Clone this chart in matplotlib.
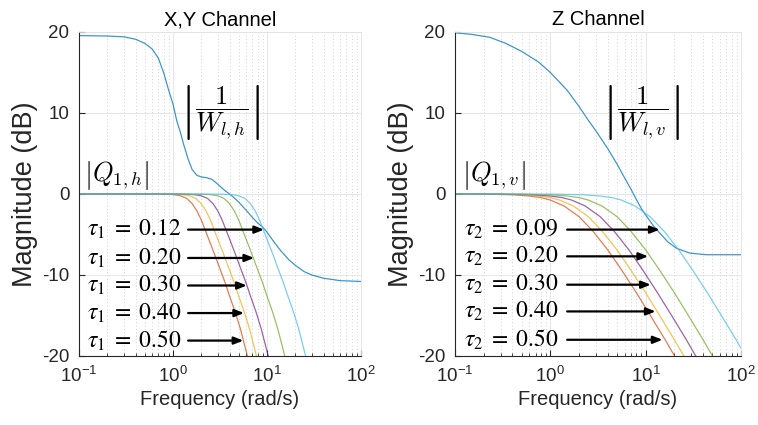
import matplotlib
matplotlib.use('Agg')
import matplotlib.pyplot as plt
from matplotlib.ticker import LogLocator, NullFormatter, FixedLocator

plt.rcParams['font.family'] = ['Liberation Sans', 'DejaVu Sans']
plt.rcParams['mathtext.fontset'] = 'custom'
plt.rcParams['mathtext.rm'] = 'Liberation Sans'
plt.rcParams['mathtext.it'] = 'Liberation Sans:italic'
plt.rcParams['axes.unicode_minus'] = False

# |1/W| curves
w_xy_freq = [0.1, 0.2, 0.3, 0.4, 0.5, 0.6, 0.7, 0.8, 0.9, 1.0, 1.1, 1.2, 1.3, 1.45, 1.6,
             1.8, 2.0, 2.3, 2.6, 3.0, 3.5, 4.2, 5.0, 6.0, 7.0, 8.0, 9.0, 10, 12, 14, 17,
             20, 25, 30, 40, 60, 100]
w_xy_db = [19.55, 19.5, 19.4, 19.1, 18.6, 17.9, 16.75, 14.9, 12.8, 11.1, 9.0, 7.6, 6.1, 4.3, 3.0,
           2.3, 2.1, 2.0, 1.8, 1.2, 0.5, -0.2, -1.0, -2.0, -2.9, -3.6, -4.1, -4.7, -6.0, -7.0, -8.1,
           -8.8, -9.6, -10.0, -10.4, -10.7, -10.8]

w_z_freq = [0.1, 0.15, 0.23, 0.34, 0.5, 0.75, 1.0, 1.5, 2.0, 2.5, 3.0, 4.0, 5.0, 6.0, 7.0,
            8.0, 9.0, 10, 12, 14, 17, 21, 29, 43, 100]
w_z_db = [19.9, 19.7, 19.35, 18.6, 17.6, 16.3, 15.0, 12.8, 10.8, 9.1, 7.8, 5.6, 3.7, 2.0, 0.6,
          -0.7, -1.8, -2.6, -3.9, -4.8, -5.9, -6.7, -7.3, -7.5, -7.5]

# |Q| curves, X,Y channel (tau1 = 0.50, 0.40, 0.30, 0.20, 0.12)
q_xy_db = [0, -0.02, -0.08, -0.22, -0.55, -1.2, -2.1, -3.2, -4.45, -6.1, -7.6, -9.4,
           -11.0, -12.6, -14.6, -16.6, -19.4, -22.5]
q_xy_freq = [
    [0.1, 0.8, 1.0, 1.2, 1.4, 1.6, 1.8, 2.0, 2.2, 2.5, 2.8, 3.2, 3.6, 4.0, 4.6, 5.2, 6.0, 7.0],
    [0.1, 1.0, 1.25, 1.5, 1.75, 2.0, 2.25, 2.5, 2.75, 3.12, 3.5, 4.0, 4.5, 5.0, 5.75, 6.5, 7.5, 8.75],
    [0.1, 1.33, 1.67, 2.0, 2.33, 2.67, 3.0, 3.33, 3.67, 4.17, 4.67, 5.33, 6.0, 6.67, 7.67, 8.67, 10.0, 11.7],
    [0.1, 2.0, 2.5, 3.0, 3.5, 4.0, 4.5, 5.0, 5.5, 6.25, 7.0, 8.0, 9.0, 10.0, 11.5, 13.0, 15.0, 17.5],
    [0.1, 3.33, 4.17, 5.0, 5.83, 6.67, 7.5, 8.33, 9.17, 10.4, 11.7, 13.3, 15.0, 16.7, 19.2, 21.7, 25.0, 29.2],
]

# |Q| curves, Z channel (tau2 = 0.50, 0.40, 0.30, 0.20, 0.09)
q_z_db = [0, -0.02, -0.1, -0.25, -0.45, -0.75, -1.5, -2.8, -4.6, -6.9, -9.4, -12.2,
          -15.0, -18.0, -20.8, -22.9]
q_z_freq = [
    [0.1, 0.2, 0.4, 0.6, 0.8, 1.0, 1.4, 2.0, 2.8, 4.0, 5.6, 8.0, 11.2, 16, 22, 28],
    [0.1, 0.25, 0.5, 0.75, 1.0, 1.25, 1.75, 2.5, 3.5, 5.0, 7.0, 10, 14, 20, 27.5, 35],
    [0.1, 0.33, 0.67, 1.0, 1.33, 1.67, 2.33, 3.33, 4.67, 6.67, 9.33, 13.3, 18.7, 26.7, 36.7, 46.7],
    [0.1, 0.5, 1, 1.5, 2, 2.5, 3.5, 5, 7, 10, 14, 20, 28, 40, 55, 70],
    [0.1, 1.11, 2.22, 3.33, 4.44, 5.56, 7.78, 11.1, 15.6, 22.2, 31.1, 44.4, 62.2, 88.9, 122, 156],
]

# tau labels and arrows
tau_xy = ['0.12', '0.20', '0.30', '0.40', '0.50']
tau_xy_row = [-4.4, -7.9, -11.3, -14.7, -18.1]
tau_xy_tip = [9.3, 7.3, 6.1, 5.7, 5.6]
tau_z = ['0.09', '0.20', '0.30', '0.40', '0.50']
tau_z_row = [-4.4, -7.7, -11.2, -14.5, -18.0]
tau_z_tip = [14.0, 10.6, 11.3, 12.7, 15.0]

w_color = '#0072BD'
q_colors = ['#D95319', '#EDB120', '#7E2F8E', '#77AC30', '#4DBEEE']
axis_col = '#262626'
grid_col = '#e3e3e3'

fig = plt.figure(figsize=(7.58, 4.25), dpi=100)
ax1 = fig.add_axes([0.1042, 0.1624, 0.372, 0.7624])
ax2 = fig.add_axes([0.6003, 0.1624, 0.3773, 0.7624])


def style_axis(ax, title):
    ax.set_xscale('log')
    ax.set_xlim(0.1, 100)
    ax.set_ylim(-20, 20)
    ax.set_yticks([-20, -10, 0, 10, 20])
    ax.xaxis.set_major_locator(FixedLocator([0.1, 1, 10, 100]))
    ax.xaxis.set_minor_locator(LogLocator(base=10, subs=range(2, 10)))
    ax.xaxis.set_minor_formatter(NullFormatter())
    ax.grid(True, which='major', color=grid_col, lw=0.6, ls='-')
    ax.grid(True, which='minor', axis='x', color='#c4c4c4', lw=0.6, ls=(0, (1, 3)))
    ax.set_axisbelow(True)
    for s in ['left', 'bottom']:
        ax.spines[s].set_color(axis_col)
        ax.spines[s].set_linewidth(0.8)
    for s in ['top', 'right']:
        ax.spines[s].set_color(grid_col)
        ax.spines[s].set_linewidth(0.6)
    ax.tick_params(which='both', direction='in', colors=axis_col, labelsize=13.5,
                   top=False, right=False)
    ax.tick_params(which='major', length=4, pad=7)
    ax.tick_params(which='minor', length=2)
    ax.set_title(title, fontsize=14.5, color='black', pad=5)
    ax.set_xlabel('Frequency (rad/s)', fontsize=14.5, color=axis_col, labelpad=3)
    ax.set_ylabel('Magnitude (dB)', fontsize=19.5, color=axis_col, labelpad=3)


def draw_panel(ax, w_f, w_db, q_f, q_db, taus, rows, tips, sub, x_text, x_start):
    ax.plot(w_f, w_db, color=w_color, lw=0.9, alpha=0.75)
    for f, c in zip(q_f, q_colors):
        ax.plot(f, q_db, color=c, lw=0.9, alpha=0.75)
    for t, r, tip in zip(taus, rows, tips):
        ax.text(x_text, r, r'$\tau_{\mathrm{%s}}\;=\;\mathrm{%s}$' % (sub, t), fontsize=17,
                math_fontfamily='stix', va='center', ha='left')
        ax.annotate('', xy=(tip, r), xytext=(x_start, r),
                    arrowprops=dict(arrowstyle='-|>,head_length=0.55,head_width=0.22',
                                    lw=1.6, color='black', shrinkA=0, shrinkB=0))


style_axis(ax1, 'X,Y Channel')
style_axis(ax2, 'Z Channel')

draw_panel(ax1, w_xy_freq, w_xy_db, q_xy_freq, q_xy_db, tau_xy, tau_xy_row, tau_xy_tip,
           '1', 0.122, 1.45)
draw_panel(ax2, w_z_freq, w_z_db, q_z_freq, q_z_db, tau_z, tau_z_row, tau_z_tip,
           '2', 0.124, 1.5)

ax1.text(3.16, 10, r'$\left|\dfrac{1}{W_{l,h}}\right|$', fontsize=19,
         math_fontfamily='cm', ha='center', va='center')
ax2.text(8.9, 10, r'$\left|\dfrac{1}{W_{l,v}}\right|$', fontsize=19,
         math_fontfamily='cm', ha='center', va='center')
ax1.text(0.113, 0.2, r'$\left|Q_{1,h}\right|$', fontsize=19,
         math_fontfamily='cm', ha='left', va='bottom')
ax2.text(0.119, 0.2, r'$\left|Q_{1,v}\right|$', fontsize=19,
         math_fontfamily='cm', ha='left', va='bottom')

fig.savefig('out.png', dpi=100)
